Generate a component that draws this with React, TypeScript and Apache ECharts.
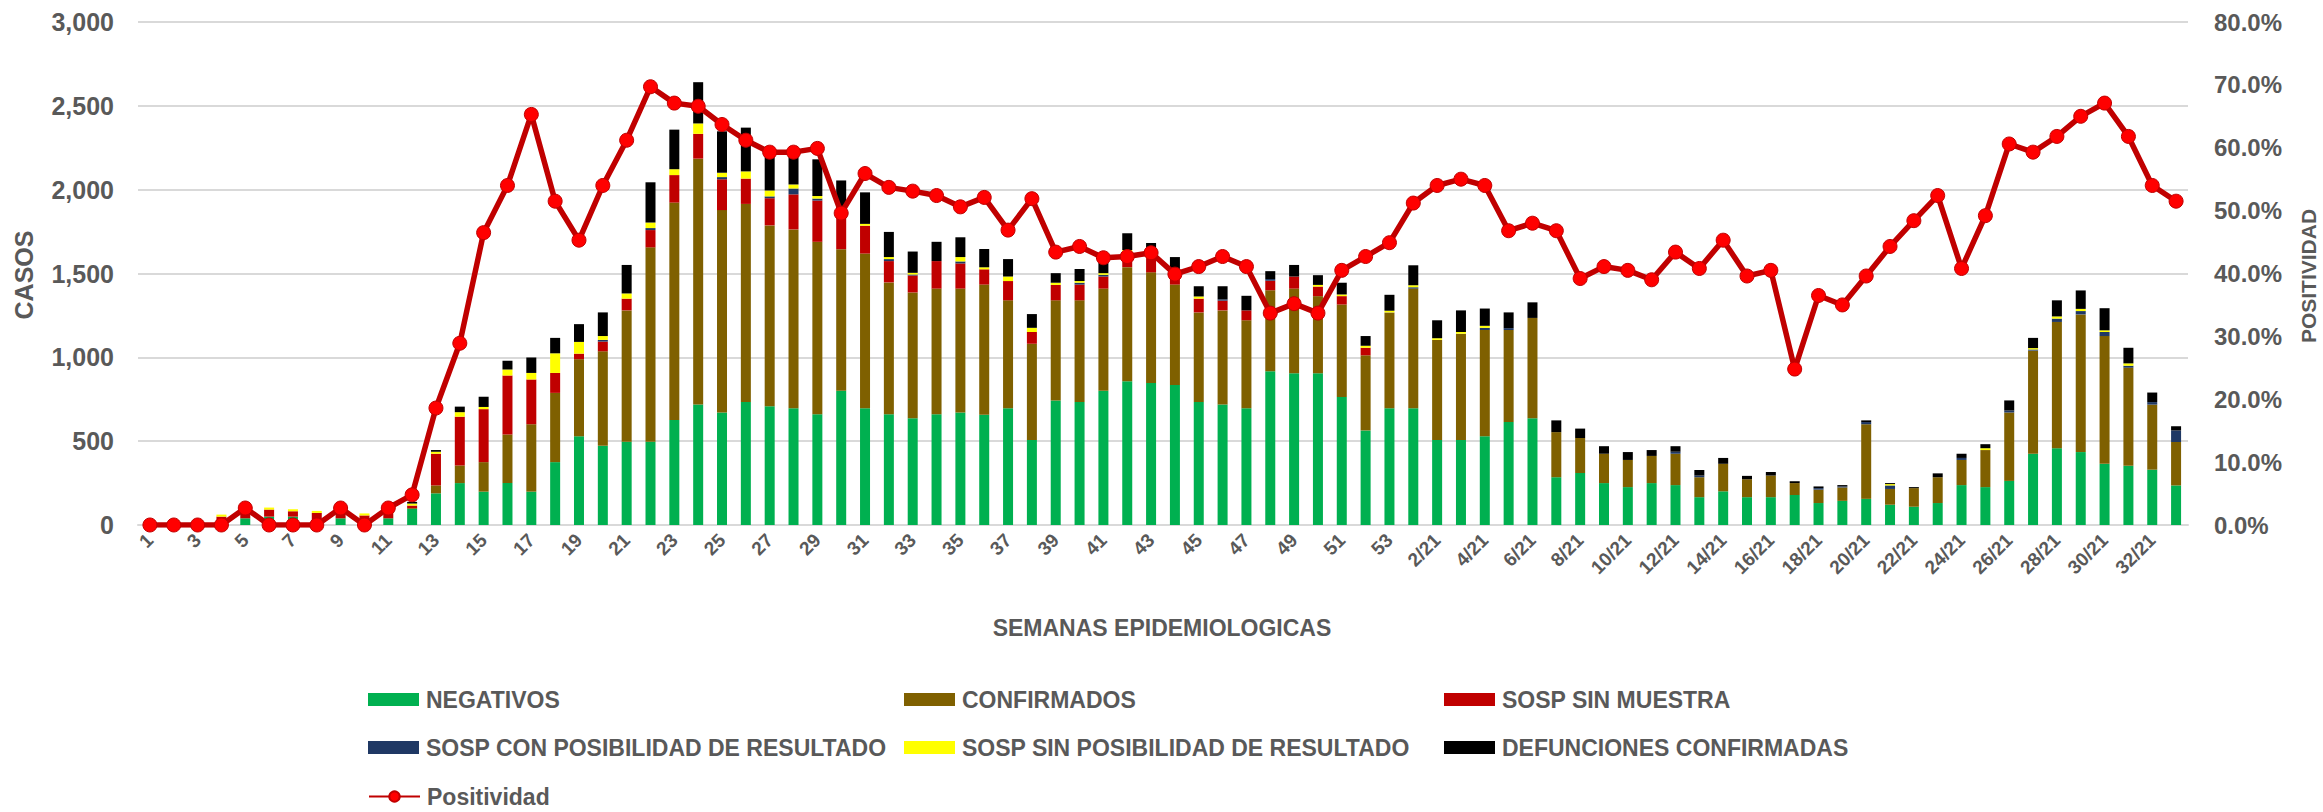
import React, { useEffect, useRef } from "react";
import * as echarts from "echarts";

const weeks2020: string[] = Array.from({ length: 53 }, (_, i) => String(i + 1));
const weeks2021: string[] = Array.from({ length: 33 }, (_, i) => `${i + 1}/21`);
const categories: string[] = [...weeks2020, ...weeks2021];

const negativos: number[] = [
  0, 5, 5, 5, 40, 50, 50, 0, 40, 10, 40, 96, 189, 250, 199, 250, 199, 375, 529, 472,
  497, 497, 626, 718, 671, 733, 708, 696, 661, 800, 696, 661, 636, 661, 671, 657, 696, 507, 743, 733,
  800, 858, 847, 835, 733, 718, 696, 917, 905, 905, 763, 564, 696, 696, 507, 507, 529, 614, 636, 285,
  310, 250, 226, 250, 238, 166, 201, 166, 166, 179, 131, 144, 156, 121, 109, 131, 238, 226, 263, 425,
  458, 435, 365, 353, 330, 236,
];
const confirmados: number[] = [
  0, 0, 0, 0, 0, 0, 0, 0, 0, 5, 0, 5, 47, 105, 176, 290, 402, 413, 460, 564,
  783, 1159, 1297, 1467, 1207, 1182, 1079, 1067, 1028, 845, 923, 786, 751, 749, 739, 777, 644, 574, 597, 607,
  610, 680, 660, 599, 535, 562, 525, 483, 505, 460, 552, 448, 572, 714, 597, 634, 634, 549, 599, 269,
  209, 175, 162, 162, 187, 119, 164, 107, 129, 71, 80, 80, 445, 94, 111, 154, 150, 221, 408, 615,
  753, 821, 762, 585, 388, 259,
];
const sospSinMuestra: number[] = [
  0, 15, 15, 45, 50, 42, 32, 72, 35, 42, 30, 15, 189, 291, 316, 351, 267, 119, 33, 58,
  70, 103, 164, 148, 184, 151, 162, 209, 246, 230, 166, 127, 101, 164, 150, 91, 115, 70, 92, 94,
  72, 81, 85, 64, 82, 58, 59, 57, 72, 57, 50, 45, 0, 0, 0, 0, 0, 0, 0, 0,
  0, 0, 0, 0, 0, 0, 0, 0, 0, 0, 0, 0, 0, 0, 0, 0, 0, 0, 0, 0,
  0, 0, 0, 0, 0, 0,
];
const sospConPosibilidad: number[] = [
  0, 0, 0, 0, 0, 0, 0, 0, 0, 0, 0, 0, 0, 0, 0, 0, 0, 0, 0, 10,
  0, 12, 0, 0, 13, 0, 11, 35, 12, 0, 0, 12, 6, 0, 12, 0, 0, 0, 0, 11,
  10, 0, 0, 0, 0, 8, 0, 10, 0, 0, 0, 0, 0, 8, 0, 0, 13, 11, 0, 0,
  0, 0, 0, 0, 12, 10, 0, 0, 0, 0, 9, 6, 13, 21, 0, 0, 12, 0, 12, 7,
  20, 20, 24, 12, 15, 69,
];
const sospSinPosibilidad: number[] = [
  0, 10, 10, 12, 5, 12, 12, 12, 5, 12, 5, 12, 12, 27, 13, 37, 39, 117, 70, 23,
  31, 33, 35, 62, 26, 43, 35, 24, 15, 0, 11, 12, 10, 0, 26, 12, 27, 25, 13, 10,
  10, 21, 10, 15, 13, 0, 0, 0, 0, 10, 10, 12, 10, 12, 10, 10, 12, 0, 0, 0,
  0, 0, 0, 0, 0, 0, 0, 0, 0, 0, 0, 0, 0, 8, 0, 0, 0, 11, 0, 8,
  13, 13, 10, 14, 0, 0,
];
const defunciones: number[] = [
  0, 0, 0, 0, 0, 0, 0, 0, 0, 0, 5, 10, 10, 33, 61, 51, 92, 92, 106, 141,
  170, 240, 236, 246, 247, 261, 231, 210, 219, 180, 188, 150, 127, 115, 118, 109, 104, 82, 57, 72,
  68, 100, 80, 85, 61, 78, 87, 47, 69, 58, 70, 58, 95, 119, 107, 129, 103, 94, 93, 70,
  56, 45, 47, 35, 33, 33, 35, 20, 21, 11, 10, 8, 10, 6, 6, 23, 25, 24, 60, 61,
  96, 110, 132, 93, 57, 25,
];
const positividad: number[] = [
  0, 0, 0, 0, 2.7, 0, 0, 0, 2.7, 0, 2.7, 4.8, 18.6, 28.9, 46.5, 54.0, 65.3, 51.5, 45.3, 54.0,
  61.2, 69.7, 67.1, 66.6, 63.7, 61.2, 59.3, 59.3, 59.9, 49.6, 55.9, 53.7, 53.1, 52.4, 50.6, 52.1, 46.9, 51.9, 43.4, 44.3,
  42.5, 42.7, 43.3, 39.9, 41.1, 42.7, 41.1, 33.7, 35.2, 33.7, 40.5, 42.7, 44.9, 51.2, 54.0, 55.0, 54.0, 46.8, 48.0, 46.8,
  39.2, 41.1, 40.5, 39.0, 43.4, 40.8, 45.3, 39.6, 40.5, 24.8, 36.5, 35.0, 39.6, 44.3, 48.4, 52.4, 40.8, 49.2, 60.6, 59.3,
  61.8, 65.0, 67.1, 61.8, 54.0, 51.5,
];

const FONT = '"Liberation Sans", Arial, sans-serif';
const GREY = "#595959";

const barSeries = [
  { name: "NEGATIVOS", data: negativos, color: "#00B050" },
  { name: "CONFIRMADOS", data: confirmados, color: "#7F6000" },
  { name: "SOSP SIN MUESTRA", data: sospSinMuestra, color: "#C00000" },
  { name: "SOSP CON POSIBILIDAD DE RESULTADO", data: sospConPosibilidad, color: "#1F3864" },
  { name: "SOSP SIN POSIBILIDAD DE RESULTADO", data: sospSinPosibilidad, color: "#FFFF00" },
  { name: "DEFUNCIONES CONFIRMADAS", data: defunciones, color: "#000000" },
];

const legendPos: [number, number][] = [
  [368, 688], [904, 688], [1444, 688],
  [368, 736], [904, 736], [1444, 736],
  [368, 785],
];

export default function App() {
  const ref = useRef<HTMLDivElement>(null);
  useEffect(() => {
    if (!ref.current) return;
    const chart = echarts.init(ref.current, undefined, { renderer: "svg" });
    const names = [...barSeries.map((s) => s.name), "Positividad"];
    const legends = names.map((n, i) => ({
      data: [n],
      left: legendPos[i][0],
      top: legendPos[i][1],
      padding: 0,
      itemWidth: 51,
      itemHeight: 13,
      icon: n === "Positividad" ? undefined : "rect",
      selectedMode: false,
      textStyle: { color: GREY, fontSize: 23, fontWeight: "bold", fontFamily: FONT, padding: [0, 0, 0, 2] },
    }));
    chart.setOption({
      animation: false,
      backgroundColor: "#ffffff",
      grid: { left: 138, right: 135, top: 22, bottom: 287 },
      legend: legends,
      xAxis: {
        type: "category",
        data: categories,
        boundaryGap: true,
        axisTick: { show: false },
        axisLine: { lineStyle: { color: "#D9D9D9", width: 2 } },
        axisLabel: {
          interval: 1,
          rotate: 45,
          margin: 12,
          color: GREY,
          fontSize: 19,
          fontWeight: "bold",
          fontFamily: FONT,
        },
      },
      yAxis: [
        {
          type: "value",
          min: 0,
          max: 3000,
          interval: 500,
          axisLine: { show: false },
          axisTick: { show: false },
          splitLine: { lineStyle: { color: "#D9D9D9", width: 2 } },
          axisLabel: {
            margin: 24,
            color: GREY,
            fontSize: 25,
            fontWeight: "bold",
            fontFamily: FONT,
            formatter: (v: number) => v.toLocaleString("en-US"),
          },
        },
        {
          type: "value",
          min: 0,
          max: 80,
          interval: 10,
          position: "right",
          axisLine: { show: false },
          axisTick: { show: false },
          splitLine: { show: false },
          axisLabel: {
            margin: 26,
            color: GREY,
            fontSize: 24,
            fontWeight: "bold",
            fontFamily: FONT,
            formatter: (v: number) => v.toFixed(1) + "%",
          },
        },
      ],
      series: [
        ...barSeries.map((s) => ({
          name: s.name,
          type: "bar",
          stack: "total",
          data: s.data,
          barWidth: 10,
          itemStyle: { color: s.color },
        })),
        {
          name: "Positividad",
          type: "line",
          yAxisIndex: 1,
          data: positividad,
          symbol: "circle",
          symbolSize: 14,
          lineStyle: { color: "#C00000", width: 5.5 },
          itemStyle: { color: "#FF0000", borderColor: "#C00000", borderWidth: 1 },
          z: 10,
        },
      ],
      graphic: [
        {
          type: "text",
          x: 24,
          y: 275,
          rotation: Math.PI / 2,
          style: {
            text: "CASOS",
            fill: GREY,
            fontSize: 25,
            fontWeight: "bold",
            fontFamily: FONT,
            align: "center",
            verticalAlign: "middle",
          },
        },
        {
          type: "text",
          x: 2308,
          y: 276,
          rotation: Math.PI / 2,
          style: {
            text: "POSITIVIDAD",
            fill: GREY,
            fontSize: 21,
            fontWeight: "bold",
            fontFamily: FONT,
            align: "center",
            verticalAlign: "middle",
          },
        },
        {
          type: "text",
          x: 1162,
          y: 628,
          style: {
            text: "SEMANAS EPIDEMIOLOGICAS",
            fill: GREY,
            fontSize: 23,
            fontWeight: "bold",
            fontFamily: FONT,
            align: "center",
            verticalAlign: "middle",
          },
        },
      ],
    });
    return () => chart.dispose();
  }, []);
  return (
    <div
      ref={ref}
      style={{ position: "absolute", left: 0, top: 0, width: 2323, height: 812, background: "#fff" }}
    />
  );
}
